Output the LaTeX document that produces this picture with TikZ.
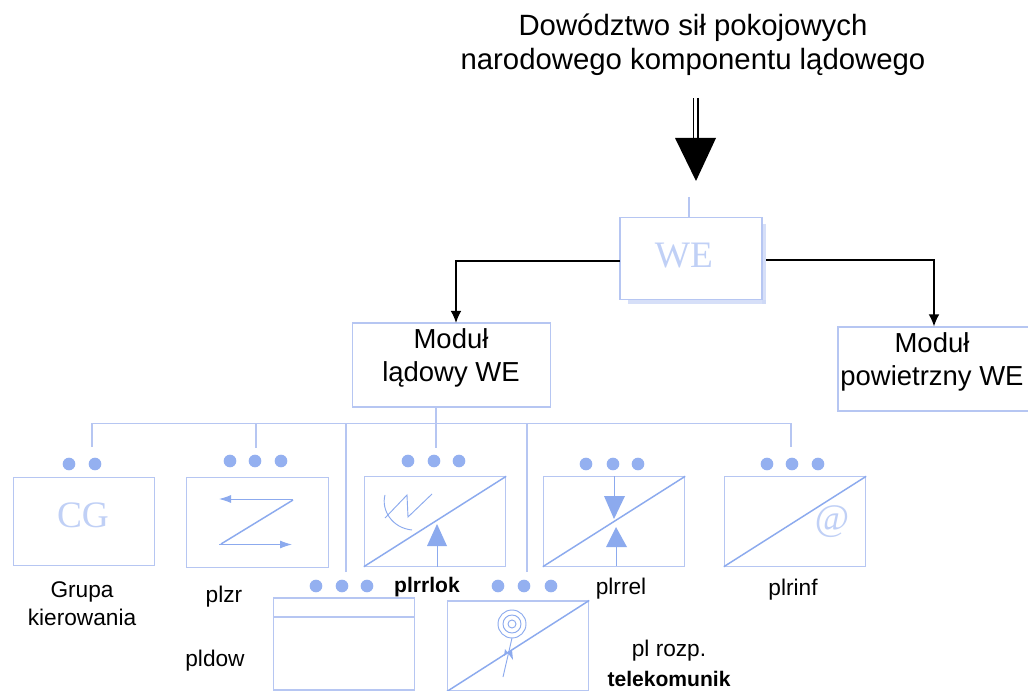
\documentclass[tikz,border=0pt]{standalone}
\usepackage{fontspec}
\setmainfont{Liberation Sans}
\newfontfamily\serifwe{Liberation Serif}
\usetikzlibrary{arrows.meta}
\definecolor{lineblue}{RGB}{182,198,242}
\definecolor{dotblue}{RGB}{148,176,240}
\definecolor{markblue}{RGB}{140,170,238}
\definecolor{letterblue}{RGB}{192,208,246}
\tikzset{
  unitbox/.style={draw=lineblue,line width=0.8pt,fill=white,inner sep=0pt},
  smallbox/.style={unitbox,minimum width=106pt,minimum height=67pt},
  dotmark/.style={circle,fill=dotblue,inner sep=0pt,minimum size=9.5pt},
  busline/.style={draw=lineblue,line width=0.8pt},
  slash/.style={draw=markblue,line width=1.1pt},
  markline/.style={draw=markblue,line width=0.7pt},
  cmdline/.style={draw=black,line width=1.1pt,-{Latex[length=9pt,width=8pt]}},
  modlabel/.style={font=\fontsize{20.6pt}{25pt}\selectfont,align=center,inner sep=0pt},
  sublabel/.style={font=\fontsize{17pt}{21pt}\selectfont,align=center,inner sep=0pt},
  boldlabel/.style={sublabel,font=\fontsize{15.8pt}{21pt}\selectfont\bfseries},
}
\begin{document}
\begin{tikzpicture}[x=0.75pt,y=0.75pt,yscale=-1]
\useasboundingbox (0,0) rectangle (1028,691);
\clip (0,0) rectangle (1028,691);

% Text Node
\node (title) [align=center,inner sep=0pt,font=\fontsize{22pt}{25.5pt}\selectfont] at (693,45) {Dowództwo sił pokojowych\\narodowego komponentu lądowego};

%Shape: top boxes
\fill[lineblue!70,opacity=0.8] (628,300) rectangle (766,304);
\fill[lineblue!70,opacity=0.8] (762,224) rectangle (766,304);
\node (we) [unitbox,minimum width=106.5pt,minimum height=62pt] at (691,258.5) {};
\node (wetxt) [inner sep=0pt,text=letterblue,font=\serifwe\fontsize{28pt}{28pt}\selectfont] at (684,256) {WE};
\node (modl) [unitbox,minimum width=148pt,minimum height=63pt] at (451.5,365) {};
\node (modp) [unitbox,minimum width=144pt,minimum height=63pt] at (934,369) {};

% Text Node
\node (modltxt) [modlabel] at (451,358) {Moduł\\lądowy WE};
\node (modptxt) [modlabel] at (932,362) {Moduł\\powietrzny WE};

%Double arrow above the commander box
\coordinate (dbltop) at (695.5,98);
\coordinate (dblend) at (695.5,140);
\coordinate (headl) at (675,138);
\coordinate (headr) at (716,138);
\coordinate (headtip) at (696,181);
\coordinate (westub) at (689,197);
\draw[black,line width=1pt,double distance=2.5pt] (dbltop) -- (dblend);
\fill[black] (headl) -- (headr) -- (headtip) -- cycle;
\draw[busline] (westub) -- (westub |- we.north);

%Straight Lines
\coordinate (modlin) at (456,323);
\coordinate (weleft) at (620,261);
\coordinate (weright) at (766,260);
\draw[cmdline] (weleft) -| (modlin);
\draw[cmdline] (weright) -| (modp.north);

%Small boxes
\node (cgbox) [smallbox,minimum height=66.5pt] at (84,521.5) {};
\node (cgtxt) [inner sep=0pt,text=letterblue,font=\serifwe\fontsize{28pt}{28pt}\selectfont] at (83,515) {CG};
\node (zrbox) [smallbox,minimum height=68pt] at (257.5,522.5) {};
\node (lokbox) [smallbox] at (435,521.5) {};
\node (relbox) [smallbox] at (614,521.5) {};
\node (infbox) [smallbox] at (795,521.5) {};
\node (dowbox) [smallbox,minimum height=69pt] at (344,644) {};
\node (telbox) [smallbox,minimum height=67.5pt] at (518,646) {};

%Dots
\node (cgdota) [dotmark] at (69,464) {};
\node (cgdotb) [dotmark] at (95,464) {};
\node (zrdota) [dotmark] at (230,461) {};
\node (zrdotb) [dotmark] at (255,461) {};
\node (zrdotc) [dotmark] at (281,461) {};
\node (lokdota) [dotmark] at (408,461) {};
\node (lokdotb) [dotmark] at (434,461) {};
\node (lokdotc) [dotmark] at (459,461) {};
\node (reldota) [dotmark] at (586,464) {};
\node (reldotb) [dotmark] at (613,464) {};
\node (reldotc) [dotmark] at (638,464) {};
\node (infdota) [dotmark] at (767,464) {};
\node (infdotb) [dotmark] at (792,464) {};
\node (infdotc) [dotmark] at (818,464) {};
\node (dowdota) [dotmark] at (316,586) {};
\node (dowdotb) [dotmark] at (342,586) {};
\node (dowdotc) [dotmark] at (367,586) {};
\node (teldota) [dotmark] at (498,586) {};
\node (teldotb) [dotmark] at (524,586) {};
\node (teldotc) [dotmark] at (551,586) {};

%Bus and its drops
\coordinate (busleft) at (92,423.5);
\coordinate (busright) at (791,423.5);
\coordinate (cgend) at (92,447);
\coordinate (zrend) at (256,448);
\coordinate (dowend) at (346,572);
\coordinate (lokend) at (436,448);
\coordinate (telend) at (527,572);
\coordinate (infend) at (791,447);
\coordinate (modlout) at (436,406.5);
\draw[busline] (cgend) |- (busright) -- (infend);
\draw[busline] (modlout) -- (lokend);
\draw[busline] (zrend) -- (zrend |- busleft);
\draw[busline] (dowend) -- (dowend |- busleft);
\draw[busline] (telend) -- (telend |- busleft);

%Inner line of the empty box
\draw[busline] (dowbox.west |- 0,617) -- (dowbox.east |- 0,617);

%Diagonals
\draw[slash] (lokbox.south west) -- (lokbox.north east);
\draw[slash] (relbox.south west) -- (relbox.north east);
\draw[slash] (infbox.south west) -- (infbox.north east);
\draw[slash] (telbox.south west) -- (telbox.north east);

%Z sign
\draw[markline,-{Latex[length=9pt,width=6pt]}] (293,499) -- (219,499);
\draw[slash] (293,500) -- (221,544);
\draw[markline,-{Latex[length=9pt,width=6pt]}] (219,544.5) -- (292,544.5);

%Radar sign
\draw[markline] (385,495) .. controls (381,510) and (392,528) .. (412,530);
\draw[markline] (385,518) -- (407,495) -- (408,517) -- (432,494);
\draw[markline] (lokbox.south -| 437,0) -- (437,546);
\fill[markblue] (427,546) -- (447,546) -- (437,524) -- cycle;

%Relay sign
\draw[markline] (relbox.north) -- (614,496);
\fill[markblue] (604,496) -- (625,496) -- (614,519) -- cycle;
\draw[markline] (616,547) -- (616,566);
\fill[markblue] (606,547) -- (627,547) -- (616,527) -- cycle;

%At sign
\node (atmark) [inner sep=0pt,text=letterblue,font=\serifwe\fontsize{28pt}{28pt}\selectfont] at (832,522) {@};

%Antenna sign
\draw[markline] (512,624) circle (14) (512,624) circle (9) (512,624) circle (4);
\draw[markline] (512,638) -- (503,677);
\fill[markblue] (504,656) -- (505,649) -- (513,660) -- (512,650) -- cycle;

% Text Node
\node (cglabel) [sublabel] at (82,604) {Grupa\\kierowania};
\node (zrlabel) [sublabel] at (224,597) {plzr};
\node (dowlabel) [sublabel] at (215,661) {pldow};
\node (loklabel) [boldlabel] at (427,587) {plrrlok};
\node (rellabel) [sublabel] at (621,589) {plrrel};
\node (inflabel) [sublabel] at (793,590) {plrinf};
\node (rozlabel) [sublabel] at (669,651) {pl rozp.};
\node (tellabel) [boldlabel] at (669,679) {telekomunik};

\end{tikzpicture}
\end{document}
